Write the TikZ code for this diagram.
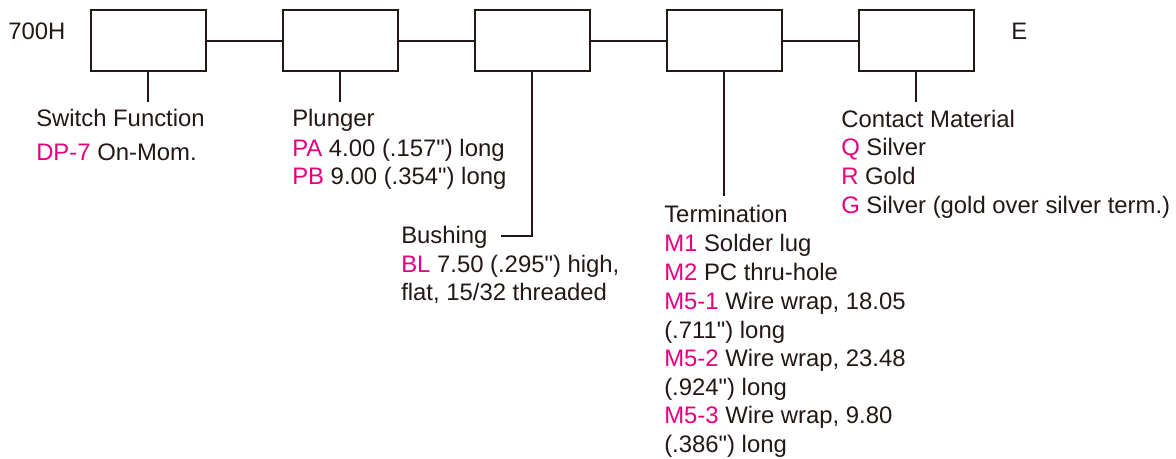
\documentclass[tikz,border=0pt]{standalone}
\usepackage{fontspec}
\setmainfont{Liberation Sans}
\definecolor{txt}{HTML}{231815}
\definecolor{mag}{HTML}{E4007F}
\newcommand{\dq}{\textquotedbl}
\begin{document}
\begin{tikzpicture}[x=0.75pt,y=-0.75pt,
  box/.style={draw=txt,line width=1.5pt,minimum width=86.25pt,minimum height=45.75pt,inner sep=0pt},
  wire/.style={draw=txt,line width=1.5pt},
  lbl/.style={anchor=base west,inner sep=0pt,text=txt,font=\fontsize{17.9}{21}\selectfont},
  code/.style={text=mag}]
\useasboundingbox (0,0) rectangle (1176,458);
\node[box] (b1) at (148,40.5) {};
\node[box] (b2) at (340,40.5) {};
\node[box] (b3) at (532,40.5) {};
\node[box] (b4) at (724,40.5) {};
\node[box] (b5) at (916,40.5) {};
\draw[wire] (b1.east) -- (b2.west);
\draw[wire] (b2.east) -- (b3.west);
\draw[wire] (b3.east) -- (b4.west);
\draw[wire] (b4.east) -- (b5.west);
\coordinate (t1) at (148,102);
\coordinate (t2) at (340,102);
\coordinate (t3) at (501,236);
\coordinate (t4) at (724,196);
\coordinate (t5) at (916,102);
\draw[wire] (b1.south) -- (t1);
\draw[wire] (b2.south) -- (t2);
\draw[wire] (b3.south) |- (t3);
\draw[wire] (b4.south) -- (t4);
\draw[wire] (b5.south) -- (t5);
\node[lbl] (pre) at (8,39) {700H};
\node[lbl] (suf) at (1011,39) {E};
% Switch function
\node[lbl] (sf0) at (36,126) {Switch Function};
\node[lbl] (sf1) at (36,160) {\textcolor{mag}{DP-7} On-Mom.};
% Plunger
\node[lbl] (pl0) at (292,126) {Plunger};
\node[lbl] (pl1) at (292,156) {\textcolor{mag}{PA} 4.00 (.157\dq) long};
\node[lbl] (pl2) at (292,184) {\textcolor{mag}{PB} 9.00 (.354\dq) long};
% Bushing
\node[lbl] (bu0) at (401,243) {Bushing};
\node[lbl] (bu1) at (401,272) {\textcolor{mag}{BL} 7.50 (.295\dq) high,};
\node[lbl] (bu2) at (401,300) {flat, 15/32 threaded};
% Termination
\node[lbl] (te0) at (664,222) {Termination};
\node[lbl] (te1) at (664,251.5) {\textcolor{mag}{M1} Solder lug};
\node[lbl] (te2) at (664,280) {\textcolor{mag}{M2} PC thru-hole};
\node[lbl] (te3) at (664,309) {\textcolor{mag}{M5-1} Wire wrap, 18.05};
\node[lbl] (te4) at (664,338) {(.711\dq) long};
\node[lbl] (te5) at (664,366) {\textcolor{mag}{M5-2} Wire wrap, 23.48};
\node[lbl] (te6) at (664,395) {(.924\dq) long};
\node[lbl] (te7) at (664,423) {\textcolor{mag}{M5-3} Wire wrap, 9.80};
\node[lbl] (te8) at (664,452) {(.386\dq) long};
% Contact material
\node[lbl] (cm0) at (841,127) {Contact Material};
\node[lbl] (cm1) at (841,155) {\textcolor{mag}{Q} Silver};
\node[lbl] (cm2) at (841,184) {\textcolor{mag}{R} Gold};
\node[lbl] (cm3) at (841,213) {\textcolor{mag}{G} Silver (gold over silver term.)};
\end{tikzpicture}
\end{document}
